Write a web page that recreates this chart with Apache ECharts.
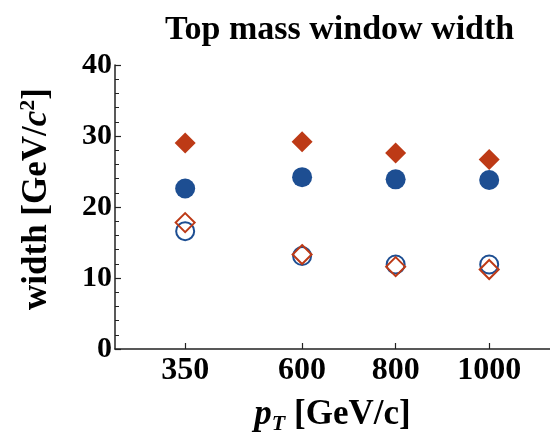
<!DOCTYPE html>
<html>
<head>
<meta charset="utf-8">
<script src="https://cdn.jsdelivr.net/npm/echarts@6/dist/echarts.min.js"></script>
<style>html,body{margin:0;padding:0;background:#fff}#c{width:550px;height:440px}</style>
</head>
<body>
<div id="c"></div>
<script>
const ptValues = [350, 600, 800, 1000];
const blueFilled = [22.6, 24.2, 23.9, 23.8];
const redFilled = [29.0, 29.2, 27.6, 26.7];
const blueOpen = [16.6, 13.1, 11.9, 11.9];
const redOpen = [17.8, 13.3, 11.6, 11.2];
const yTicks = [0, 10, 20, 30, 40];

const BLUE = '#1D4E92';
const RED = '#BD3A16';
const FONT = '"Liberation Serif", "Times New Roman", serif';

function pairs(ys) { return ptValues.map((x, i) => [x, ys[i]]); }

const chart = echarts.init(document.getElementById('c'), null, {renderer: 'canvas'});
chart.setOption({
  animation: false,
  backgroundColor: '#fff',
  title: {
    text: 'Top mass window width',
    left: 160, top: 8,
    textStyle: {fontFamily: FONT, fontWeight: 'bold', fontSize: 34, color: '#000'}
  },
  grid: {left: 115, right: 0, top: 65, bottom: 85},
  xAxis: {
    type: 'value', min: 200, max: 1130,
    axisLine: {lineStyle: {color: '#222', width: 1.5}},
    axisTick: {inside: true, length: 6, customValues: ptValues, lineStyle: {color: '#222', width: 1.2}},
    axisLabel: {customValues: ptValues, margin: 6, fontFamily: FONT, fontWeight: 'bold', fontSize: 32, color: '#000',
      formatter: v => String(v)},
    splitLine: {show: false},
    name: '{p|p}{t|T}{n| [GeV/c]}',
    nameLocation: 'middle', nameGap: 46,
    nameTextStyle: {
      rich: {
        p: {fontFamily: FONT, fontWeight: 'bold', fontStyle: 'italic', fontSize: 35, color: '#000', lineHeight: 40},
        t: {fontFamily: FONT, fontWeight: 'bold', fontStyle: 'italic', fontSize: 22, color: '#000', verticalAlign: 'bottom', lineHeight: 36},
        n: {fontFamily: FONT, fontWeight: 'bold', fontSize: 35, color: '#000', lineHeight: 40}
      }
    }
  },
  yAxis: {
    type: 'value', min: 0, max: 40, interval: 10,
    axisLine: {show: true, lineStyle: {color: '#222', width: 1.5}},
    axisTick: {show: true, inside: true, length: 6, lineStyle: {color: '#222', width: 1.2}},
    minorTick: {show: true, splitNumber: 5, length: 4, lineStyle: {color: '#222', width: 1}},
    axisLabel: {margin: 3, fontFamily: FONT, fontWeight: 'bold', fontSize: 30, color: '#000',
      formatter: v => yTicks.includes(v) ? String(v) : ''},
    splitLine: {show: false},
    name: '{n|width [GeV/}{c|c}{s|2}{n|]}',
    nameLocation: 'middle', nameRotate: 90, nameGap: 58,
    nameTextStyle: {
      padding: [0, 0, 0, 16],
      rich: {
        n: {fontFamily: FONT, fontWeight: 'bold', fontSize: 35, color: '#000', lineHeight: 40},
        c: {fontFamily: FONT, fontWeight: 'bold', fontStyle: 'italic', fontSize: 35, color: '#000', lineHeight: 40},
        s: {fontFamily: FONT, fontWeight: 'bold', fontSize: 22, color: '#000', verticalAlign: 'top', lineHeight: 40}
      }
    }
  },
  series: [
    {type: 'scatter', data: pairs(blueFilled), symbol: 'circle', symbolSize: 20,
      itemStyle: {color: BLUE, opacity: 1}},
    {type: 'scatter', data: pairs(redFilled), symbol: 'diamond', symbolSize: 21,
      itemStyle: {color: RED, opacity: 1}},
    {type: 'scatter', data: pairs(blueOpen), symbol: 'circle', symbolSize: 18,
      itemStyle: {color: 'rgba(0,0,0,0)', borderColor: BLUE, borderWidth: 2, opacity: 1}},
    {type: 'scatter', data: pairs(redOpen), symbol: 'diamond', symbolSize: 19,
      itemStyle: {color: 'rgba(0,0,0,0)', borderColor: RED, borderWidth: 2, opacity: 1}}
  ]
});
</script>
</body>
</html>
